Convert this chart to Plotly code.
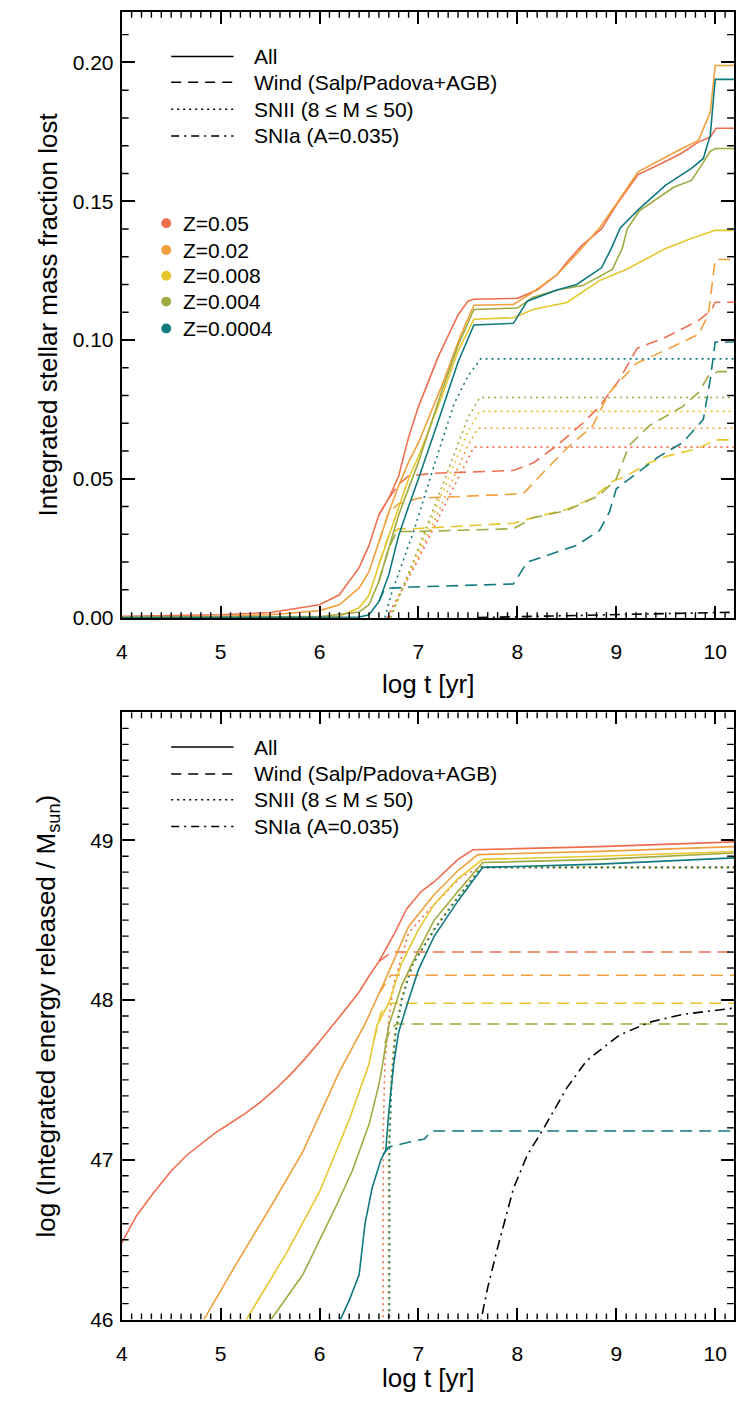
import plotly.graph_objects as go

W, H = 736, 1403
FONT = "Liberation Sans, Arial, Helvetica, sans-serif"

# ---------------- colours / labels ----------------
Z_LABELS = ["Z=0.05", "Z=0.02", "Z=0.008", "Z=0.004", "Z=0.0004"]
Z_COLORS = ["#F06E50", "#F0A03C", "#E8C62E", "#A0AA40", "#107A80"]
STYLE_LABELS = ["All", "Wind (Salp/Padova+AGB)", "SNII (8 \u2264 M \u2264 50)", "SNIa (A=0.035)"]
X_TITLE = "log t [yr]"
TOP_Y_TITLE = "Integrated stellar mass fraction lost"
BOT_Y_TITLE = "log (Integrated energy released / M<sub>sun</sub>)"

# ---------------- top panel: mass fraction lost ----------------
top_all_x = {
    "Z=0.05": [4.0, 4.5, 5.0, 5.5, 6.0, 6.2, 6.4, 6.5, 6.6, 6.7, 6.8, 6.9, 7.0, 7.2, 7.4, 7.5, 7.56, 8.0, 8.2, 8.4, 8.5, 8.65, 8.85, 9.0, 9.22, 9.45, 9.65, 9.83, 9.95, 10.01, 10.2],
    "Z=0.02": [4.0, 5.0, 5.5, 5.83, 6.0, 6.2, 6.4, 6.5, 6.6, 6.7, 6.8, 6.9, 7.0, 7.23, 7.43, 7.56, 7.96, 8.13, 8.4, 8.6, 8.83, 9.0, 9.22, 9.45, 9.65, 9.83, 9.95, 10.0, 10.2],
    "Z=0.008": [4.0, 6.0, 6.2, 6.4, 6.5, 6.6, 6.7, 6.8, 6.9, 7.0, 7.23, 7.4, 7.56, 7.96, 8.16, 8.5, 8.83, 9.1, 9.33, 9.5, 9.75, 10.0, 10.2],
    "Z=0.004": [4.0, 6.0, 6.4, 6.5, 6.6, 6.7, 6.8, 7.0, 7.23, 7.4, 7.56, 8.0, 8.16, 8.4, 8.66, 8.96, 9.06, 9.11, 9.23, 9.58, 9.76, 9.88, 9.95, 10.0, 10.2],
    "Z=0.0004": [4.0, 6.0, 6.4, 6.5, 6.6, 6.7, 6.8, 6.9, 7.0, 7.23, 7.4, 7.56, 7.96, 8.1, 8.4, 8.6, 8.85, 8.95, 9.04, 9.22, 9.5, 9.76, 9.88, 9.95, 10.0, 10.2],
}
top_all_y = {
    "Z=0.05": [0.0005, 0.0007, 0.001, 0.0018, 0.0046, 0.0082, 0.018, 0.026, 0.037, 0.043, 0.051, 0.065, 0.076, 0.094, 0.109, 0.114, 0.1147, 0.115, 0.118, 0.1235, 0.128, 0.134, 0.140, 0.1486, 0.1596, 0.1635, 0.1671, 0.1713, 0.1731, 0.1763, 0.1763],
    "Z=0.02": [0.0002, 0.0005, 0.001, 0.002, 0.0025, 0.0046, 0.0107, 0.0165, 0.027, 0.038, 0.0475, 0.056, 0.063, 0.083, 0.102, 0.1125, 0.1128, 0.1165, 0.1235, 0.131, 0.1404, 0.149, 0.1606, 0.1650, 0.1687, 0.1719, 0.182, 0.1989, 0.1989],
    "Z=0.008": [0.0, 0.0003, 0.0005, 0.0035, 0.008, 0.019, 0.0296, 0.040, 0.050, 0.058, 0.079, 0.096, 0.1075, 0.108, 0.111, 0.1135, 0.1214, 0.1254, 0.1296, 0.133, 0.1365, 0.1395, 0.1395],
    "Z=0.004": [0.0, 0.0003, 0.002, 0.0046, 0.013, 0.025, 0.037, 0.056, 0.081, 0.098, 0.111, 0.1115, 0.1154, 0.118, 0.1196, 0.1254, 0.133, 0.140, 0.1464, 0.155, 0.1575, 0.164, 0.168, 0.169, 0.169],
    "Z=0.0004": [0.0, 0.0, 0.0002, 0.001, 0.0057, 0.0154, 0.0296, 0.040, 0.050, 0.074, 0.092, 0.1054, 0.106, 0.114, 0.118, 0.120, 0.126, 0.133, 0.1404, 0.1469, 0.1558, 0.1618, 0.1654, 0.1737, 0.1939, 0.1939],
}
top_wind_x = {
    "Z=0.05": [6.6, 6.7, 6.8, 6.9, 7.16, 7.96, 8.16, 8.4, 8.66, 8.83, 9.03, 9.21, 9.5, 9.83, 9.96, 10.0, 10.2],
    "Z=0.02": [6.6, 6.7, 6.8, 7.0, 8.06, 8.2, 8.5, 8.76, 8.93, 9.2, 9.5, 9.83, 9.93, 10.0, 10.2],
    "Z=0.008": [6.6, 6.7, 6.8, 6.96, 7.96, 8.16, 8.5, 8.76, 8.96, 9.1, 9.33, 9.5, 9.83, 10.0, 10.2],
    "Z=0.004": [6.6, 6.7, 6.78, 6.96, 7.96, 8.16, 8.5, 8.83, 9.0, 9.13, 9.33, 9.67, 9.83, 9.93, 10.03, 10.2],
    "Z=0.0004": [6.6, 6.66, 6.78, 6.93, 7.96, 8.1, 8.4, 8.6, 8.83, 8.93, 9.0, 9.17, 9.43, 9.67, 9.88, 9.95, 10.0, 10.2],
}
top_wind_y = {
    "Z=0.05": [0.037, 0.043, 0.048, 0.051, 0.052, 0.053, 0.0557, 0.062, 0.070, 0.076, 0.0857, 0.097, 0.101, 0.107, 0.1107, 0.1136, 0.1136],
    "Z=0.02": [0.027, 0.038, 0.041, 0.043, 0.0446, 0.050, 0.061, 0.069, 0.081, 0.0915, 0.0964, 0.102, 0.109, 0.129, 0.129],
    "Z=0.008": [0.019, 0.0296, 0.032, 0.032, 0.034, 0.036, 0.039, 0.043, 0.049, 0.051, 0.0557, 0.058, 0.061, 0.064, 0.064],
    "Z=0.004": [0.013, 0.025, 0.031, 0.031, 0.032, 0.036, 0.0386, 0.044, 0.050, 0.062, 0.069, 0.076, 0.081, 0.087, 0.0886, 0.0886],
    "Z=0.0004": [0.0057, 0.0105, 0.0107, 0.011, 0.0121, 0.020, 0.0236, 0.026, 0.0314, 0.038, 0.0464, 0.051, 0.058, 0.063, 0.0714, 0.0857, 0.0993, 0.0993],
}
top_snii_x = {
    "Z=0.05": [6.68, 7.0, 7.3, 7.56, 10.2],
    "Z=0.02": [6.70, 7.0, 7.3, 7.5, 7.6, 10.2],
    "Z=0.008": [6.71, 7.0, 7.3, 7.5, 7.62, 10.2],
    "Z=0.004": [6.72, 7.0, 7.3, 7.5, 7.62, 10.2],
    "Z=0.0004": [6.66, 6.73, 6.96, 7.16, 7.36, 7.5, 7.63, 10.2],
}
top_snii_y = {
    "Z=0.05": [0.0, 0.021, 0.043, 0.0614, 0.0614],
    "Z=0.02": [0.0, 0.022, 0.046, 0.062, 0.0682, 0.0682],
    "Z=0.008": [0.0, 0.024, 0.050, 0.067, 0.0743, 0.0743],
    "Z=0.004": [0.0, 0.025, 0.053, 0.072, 0.0793, 0.0793],
    "Z=0.0004": [0.0, 0.009, 0.032, 0.055, 0.077, 0.087, 0.0932, 0.0932],
}
top_snia_x = [7.6, 8.0, 8.5, 9.0, 9.5, 10.0, 10.2]
top_snia_y = [0.0, 0.0003, 0.0008, 0.0013, 0.0016, 0.0018, 0.0019]

# ---------------- bottom panel: log integrated energy ----------------
bot_all_x = {
    "Z=0.05": [4.0, 4.15, 4.33, 4.5, 4.66, 4.8, 4.95, 5.1, 5.25, 5.4, 5.55, 5.7, 5.85, 6.0, 6.16, 6.3, 6.4, 6.5, 6.6, 6.76, 6.88, 7.03, 7.16, 7.4, 7.55, 8.83, 10.2],
    "Z=0.02": [4.83, 5.16, 5.5, 5.83, 6.03, 6.2, 6.46, 6.6, 6.66, 6.9, 7.16, 7.4, 7.6, 8.83, 10.2],
    "Z=0.008": [5.26, 5.66, 6.0, 6.3, 6.5, 6.58, 6.7, 6.83, 7.0, 7.16, 7.4, 7.65, 8.83, 10.2],
    "Z=0.004": [5.51, 5.83, 6.16, 6.33, 6.5, 6.6, 6.63, 6.7, 6.83, 7.0, 7.16, 7.4, 7.65, 8.83, 10.2],
    "Z=0.0004": [6.21, 6.3, 6.4, 6.46, 6.53, 6.62, 6.67, 6.7, 6.75, 6.8, 6.9, 7.0, 7.16, 7.4, 7.65, 8.83, 10.2],
}
bot_all_y = {
    "Z=0.05": [46.48, 46.65, 46.80, 46.93, 47.03, 47.10, 47.17, 47.23, 47.29, 47.36, 47.44, 47.53, 47.63, 47.74, 47.86, 47.97, 48.05, 48.15, 48.24, 48.42, 48.57, 48.68, 48.74, 48.88, 48.94, 48.96, 48.99],
    "Z=0.02": [46.0, 46.35, 46.70, 47.05, 47.32, 47.55, 47.85, 48.04, 48.12, 48.46, 48.66, 48.81, 48.91, 48.93, 48.96],
    "Z=0.008": [46.0, 46.41, 46.80, 47.25, 47.60, 47.84, 47.98, 48.23, 48.44, 48.60, 48.76, 48.88, 48.90, 48.93],
    "Z=0.004": [46.0, 46.28, 46.70, 46.93, 47.22, 47.47, 47.57, 47.84, 48.09, 48.31, 48.50, 48.68, 48.86, 48.88, 48.92],
    "Z=0.0004": [46.0, 46.12, 46.28, 46.60, 46.82, 47.0, 47.06, 47.30, 47.60, 47.80, 48.0, 48.19, 48.40, 48.62, 48.83, 48.85, 48.89],
}
bot_wind_x = {
    "Z=0.05": [6.6, 6.66, 6.73, 10.2],
    "Z=0.02": [6.6, 6.66, 6.72, 10.2],
    "Z=0.008": [6.55, 6.62, 6.7, 10.2],
    "Z=0.004": [6.66, 6.72, 6.78, 10.2],
    "Z=0.0004": [6.65, 6.70, 6.9, 7.06, 7.13, 10.2],
}
bot_wind_y = {
    "Z=0.05": [48.24, 48.27, 48.30, 48.30],
    "Z=0.02": [48.04, 48.10, 48.155, 48.155],
    "Z=0.008": [47.75, 47.92, 47.98, 47.98],
    "Z=0.004": [47.73, 47.82, 47.85, 47.85],
    "Z=0.0004": [47.04, 47.08, 47.11, 47.13, 47.18, 47.18],
}
bot_snii_x = {
    "Z=0.05": [6.64, 6.645, 6.66, 6.7, 6.75, 6.9, 7.16, 7.43, 7.62, 10.2],
    "Z=0.02": [6.695, 6.697, 6.72, 6.76, 6.83, 6.93, 7.16, 7.4, 7.63, 10.2],
    "Z=0.008": [6.70, 6.702, 6.725, 6.765, 6.835, 6.935, 7.16, 7.4, 7.63, 10.2],
    "Z=0.004": [6.705, 6.707, 6.73, 6.77, 6.84, 6.94, 7.17, 7.41, 7.64, 10.2],
    "Z=0.0004": [6.705, 6.707, 6.73, 6.77, 6.84, 6.94, 7.17, 7.41, 7.64, 10.2],
}
bot_snii_y = {
    "Z=0.05": [45.0, 47.2, 47.6, 47.88, 48.1, 48.42, 48.6, 48.77, 48.83, 48.83],
    "Z=0.02": [45.0, 47.1, 47.5, 47.8, 48.02, 48.22, 48.45, 48.65, 48.83, 48.83],
    "Z=0.008": [45.0, 47.1, 47.5, 47.8, 48.02, 48.22, 48.45, 48.65, 48.83, 48.83],
    "Z=0.004": [45.0, 47.1, 47.5, 47.8, 48.02, 48.22, 48.45, 48.65, 48.83, 48.83],
    "Z=0.0004": [45.0, 47.1, 47.5, 47.8, 48.02, 48.22, 48.45, 48.65, 48.83, 48.83],
}
bot_snia_x = [7.6, 7.7, 7.8, 7.96, 8.1, 8.26, 8.5, 8.7, 9.03, 9.33, 9.67, 10.2]
bot_snia_y = [45.9, 46.2, 46.45, 46.82, 47.03, 47.19, 47.45, 47.62, 47.78, 47.86, 47.91, 47.95]

# ---------------- figure ----------------
DASH_WIND = "12px,7px"
DASH_SNII = "2px,4px"
DASH_SNIA = "10px,5px,2px,5px"
LW = 1.6

fig = go.Figure()


def add(x, y, color, dash, xa, ya):
    fig.add_trace(go.Scatter(x=x, y=y, mode="lines", xaxis=xa, yaxis=ya,
                             line=dict(color=color, width=LW, dash=dash),
                             showlegend=False, hoverinfo="skip"))


panels = [
    ("x", "y", top_snii_x, top_snii_y, top_wind_x, top_wind_y, top_all_x, top_all_y, top_snia_x, top_snia_y),
    ("x2", "y2", bot_snii_x, bot_snii_y, bot_wind_x, bot_wind_y, bot_all_x, bot_all_y, bot_snia_x, bot_snia_y),
]
for xa, ya, sx, sy, wx, wy, nx, ny, ax_, ay_ in panels:
    for z, c in zip(Z_LABELS, Z_COLORS):
        add(sx[z], sy[z], c, DASH_SNII, xa, ya)
    for z, c in zip(Z_LABELS, Z_COLORS):
        add(wx[z], wy[z], c, DASH_WIND, xa, ya)
    for z, c in zip(Z_LABELS, Z_COLORS):
        add(nx[z], ny[z], c, "solid", xa, ya)
    add(ax_, ay_, "black", DASH_SNIA, xa, ya)


def px(x):
    return x / W


def py(y):
    return 1 - y / H


L, R = 117, 736
TOP_T, TOP_B = 12, 623
BOT_T, BOT_B = 718, 1330
TICKFONT = dict(family=FONT, size=21, color="black")
X_RANGE = [4, 10.19]
TOP_Y_RANGE = [-0.0002, 0.2182]
BOT_Y_RANGE = [46, 49.8]

xcommon = dict(range=X_RANGE, tickmode="linear", tick0=4, dtick=1,
               ticks="inside", ticklen=12, tickwidth=1.8, tickcolor="black",
               showline=True, linewidth=2, linecolor="black", mirror="allticks",
               showgrid=False, zeroline=False, tickfont=TICKFONT, ticklabelstandoff=14)
ycommon = dict(ticks="inside", ticklen=13, tickwidth=1.8, tickcolor="black",
               showline=True, linewidth=2, linecolor="black", mirror="allticks",
               showgrid=False, zeroline=False, tickfont=TICKFONT, ticklabelstandoff=2,
               tickmode="linear")

fig.update_layout(
    width=W, height=H, margin=dict(l=0, r=0, t=0, b=0),
    paper_bgcolor="white", plot_bgcolor="white",
    font=dict(family=FONT, color="black"),
    xaxis=dict(domain=[px(L), px(R)], anchor="y", **xcommon),
    yaxis=dict(domain=[py(TOP_B), py(TOP_T)], anchor="x", range=TOP_Y_RANGE,
               tick0=0, dtick=0.05, tickformat=".2f", **ycommon),
    xaxis2=dict(domain=[px(L), px(R)], anchor="y2", **xcommon),
    yaxis2=dict(domain=[py(BOT_B), py(BOT_T)], anchor="x2", range=BOT_Y_RANGE,
                tick0=46, dtick=1, tickformat="d", **ycommon),
)

annotations = []
shapes = []

# minor ticks drawn inside on all four sides (axis decoration)
MINOR_LINE = dict(color="black", width=1.4)
plot_w = R - L
xspan = X_RANGE[1] - X_RANGE[0]
for xr, yr, hpx, yrange, ystep, ymajor in [
    ("x", "y", TOP_B - TOP_T, TOP_Y_RANGE, 0.01, 5),
    ("x2", "y2", BOT_B - BOT_T, BOT_Y_RANGE, 0.1, 10),
]:
    yspan = yrange[1] - yrange[0]
    dy = 6 * yspan / hpx
    for i in range(1, 62):
        if i % 10 == 0:
            continue
        t = 4 + i * 0.1
        shapes.append(dict(type="line", xref=xr, yref=yr, x0=t, x1=t,
                           y0=yrange[0], y1=yrange[0] + dy, line=MINOR_LINE))
        shapes.append(dict(type="line", xref=xr, yref=yr, x0=t, x1=t,
                           y0=yrange[1], y1=yrange[1] - dy, line=MINOR_LINE))
    dx = 7 * xspan / plot_w
    base = 0.0 if yr == "y" else 46.0
    i = 1
    while base + i * ystep < yrange[1]:
        if i % ymajor != 0:
            t = base + i * ystep
            shapes.append(dict(type="line", xref=xr, yref=yr, x0=X_RANGE[0], x1=X_RANGE[0] + dx,
                               y0=t, y1=t, line=MINOR_LINE))
            shapes.append(dict(type="line", xref=xr, yref=yr, x0=X_RANGE[1], x1=X_RANGE[1] - dx,
                               y0=t, y1=t, line=MINOR_LINE))
        i += 1

TITLE_FONT = dict(family=FONT, size=26, color="black")
LEG_FONT = dict(family=FONT, size=21, color="black")
cx = (L + R) / 2
for yy in (689, 1389):
    annotations.append(dict(text=X_TITLE, x=px(cx), y=py(yy), xref="paper", yref="paper",
                            showarrow=False, xanchor="center", yanchor="middle", font=TITLE_FONT))
annotations.append(dict(text=TOP_Y_TITLE, x=px(42), y=py((TOP_T + TOP_B) / 2),
                        xref="paper", yref="paper", showarrow=False, textangle=-90,
                        xanchor="center", yanchor="middle", font=TITLE_FONT))
annotations.append(dict(text=BOT_Y_TITLE, x=px(42), y=py((BOT_T + BOT_B) / 2),
                        xref="paper", yref="paper", showarrow=False,
                        textangle=-90, xanchor="center", yanchor="middle", font=TITLE_FONT))

leg_dashes = ["solid", "10px,7px", DASH_SNII, "8px,5px,2px,5px"]
for rows in ([57, 83, 110, 137], [753, 780, 806, 833]):
    for lab, d, yy in zip(STYLE_LABELS, leg_dashes, rows):
        shapes.append(dict(type="line", xref="paper", yref="paper", x0=px(167), x1=px(230),
                           y0=py(yy), y1=py(yy), line=dict(color="black", width=1.5, dash=d)))
        annotations.append(dict(text=lab, x=px(249), y=py(yy), xref="paper", yref="paper",
                                showarrow=False, xanchor="left", yanchor="middle", font=LEG_FONT))

for lab, c, yy in zip(Z_LABELS, Z_COLORS, [225, 252, 278, 304, 331]):
    r = 5
    shapes.append(dict(type="circle", xref="paper", yref="paper", x0=px(162 - r), x1=px(162 + r),
                       y0=py(yy + r), y1=py(yy - r), fillcolor=c, line=dict(color=c, width=0)))
    annotations.append(dict(text=lab, x=px(177), y=py(yy), xref="paper", yref="paper",
                            showarrow=False, xanchor="left", yanchor="middle", font=LEG_FONT))

fig.update_layout(annotations=annotations, shapes=shapes)
fig.write_html("out.html")
